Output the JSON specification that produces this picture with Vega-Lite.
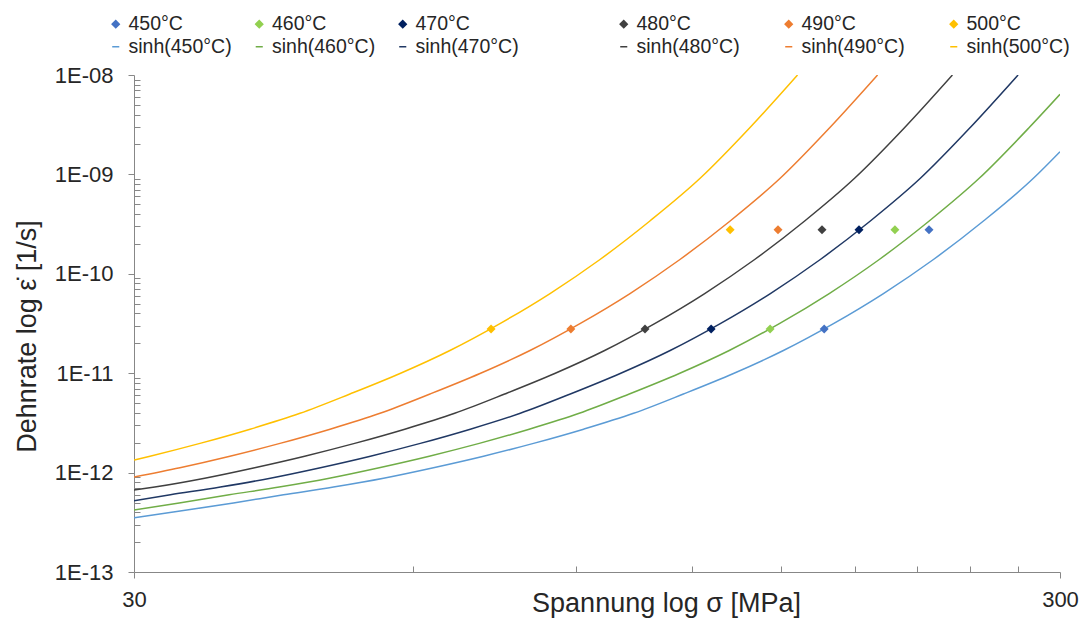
{
  "$schema": "https://vega.github.io/schema/vega-lite/v6.json",
  "width": 926,
  "height": 497,
  "autosize": {"type": "none"},
  "padding": {"left": 134, "top": 75, "right": 26, "bottom": 46},
  "background": "white",
  "config": {"view": {"stroke": null}, "font": "Liberation Sans"},
  "datasets": {
    "curves": [
      {"series": "sinh(450°C)", "sigma": 30, "rate": 3.518e-13},
      {"series": "sinh(450°C)", "sigma": 33.93, "rate": 4.146e-13},
      {"series": "sinh(450°C)", "sigma": 38.42, "rate": 4.956e-13},
      {"series": "sinh(450°C)", "sigma": 43.51, "rate": 5.978e-13},
      {"series": "sinh(450°C)", "sigma": 49.27, "rate": 7.163e-13},
      {"series": "sinh(450°C)", "sigma": 55.80, "rate": 8.784e-13},
      {"series": "sinh(450°C)", "sigma": 63.17, "rate": 1.120e-12},
      {"series": "sinh(450°C)", "sigma": 71.55, "rate": 1.462e-12},
      {"series": "sinh(450°C)", "sigma": 81.02, "rate": 1.967e-12},
      {"series": "sinh(450°C)", "sigma": 91.76, "rate": 2.733e-12},
      {"series": "sinh(450°C)", "sigma": 103.9, "rate": 3.949e-12},
      {"series": "sinh(450°C)", "sigma": 117.6, "rate": 6.175e-12},
      {"series": "sinh(450°C)", "sigma": 133.2, "rate": 9.931e-12},
      {"series": "sinh(450°C)", "sigma": 150.8, "rate": 1.692e-11},
      {"series": "sinh(450°C)", "sigma": 170.8, "rate": 3.155e-11},
      {"series": "sinh(450°C)", "sigma": 193.4, "rate": 6.334e-11},
      {"series": "sinh(450°C)", "sigma": 219.0, "rate": 1.393e-10},
      {"series": "sinh(450°C)", "sigma": 248.0, "rate": 3.398e-10},
      {"series": "sinh(450°C)", "sigma": 280.8, "rate": 9.137e-10},
      {"series": "sinh(450°C)", "sigma": 300, "rate": 1.692e-9},

      {"series": "sinh(460°C)", "sigma": 30, "rate": 4.204e-13},
      {"series": "sinh(460°C)", "sigma": 33.57, "rate": 4.956e-13},
      {"series": "sinh(460°C)", "sigma": 38.01, "rate": 5.978e-13},
      {"series": "sinh(460°C)", "sigma": 43.05, "rate": 7.163e-13},
      {"series": "sinh(460°C)", "sigma": 48.75, "rate": 8.784e-13},
      {"series": "sinh(460°C)", "sigma": 55.20, "rate": 1.120e-12},
      {"series": "sinh(460°C)", "sigma": 62.51, "rate": 1.462e-12},
      {"series": "sinh(460°C)", "sigma": 70.79, "rate": 1.967e-12},
      {"series": "sinh(460°C)", "sigma": 80.15, "rate": 2.733e-12},
      {"series": "sinh(460°C)", "sigma": 90.77, "rate": 3.949e-12},
      {"series": "sinh(460°C)", "sigma": 102.8, "rate": 6.175e-12},
      {"series": "sinh(460°C)", "sigma": 116.4, "rate": 9.931e-12},
      {"series": "sinh(460°C)", "sigma": 131.8, "rate": 1.692e-11},
      {"series": "sinh(460°C)", "sigma": 149.3, "rate": 3.155e-11},
      {"series": "sinh(460°C)", "sigma": 169.0, "rate": 6.334e-11},
      {"series": "sinh(460°C)", "sigma": 191.4, "rate": 1.393e-10},
      {"series": "sinh(460°C)", "sigma": 216.7, "rate": 3.398e-10},
      {"series": "sinh(460°C)", "sigma": 245.4, "rate": 9.137e-10},
      {"series": "sinh(460°C)", "sigma": 277.9, "rate": 2.963e-9},
      {"series": "sinh(460°C)", "sigma": 300, "rate": 6.39e-9},

      {"series": "sinh(470°C)", "sigma": 30, "rate": 5.216e-13},
      {"series": "sinh(470°C)", "sigma": 32.84, "rate": 5.978e-13},
      {"series": "sinh(470°C)", "sigma": 37.19, "rate": 7.163e-13},
      {"series": "sinh(470°C)", "sigma": 42.11, "rate": 8.784e-13},
      {"series": "sinh(470°C)", "sigma": 47.69, "rate": 1.120e-12},
      {"series": "sinh(470°C)", "sigma": 54.00, "rate": 1.462e-12},
      {"series": "sinh(470°C)", "sigma": 61.14, "rate": 1.967e-12},
      {"series": "sinh(470°C)", "sigma": 69.23, "rate": 2.733e-12},
      {"series": "sinh(470°C)", "sigma": 78.39, "rate": 3.949e-12},
      {"series": "sinh(470°C)", "sigma": 88.78, "rate": 6.175e-12},
      {"series": "sinh(470°C)", "sigma": 100.5, "rate": 9.931e-12},
      {"series": "sinh(470°C)", "sigma": 113.8, "rate": 1.692e-11},
      {"series": "sinh(470°C)", "sigma": 128.9, "rate": 3.155e-11},
      {"series": "sinh(470°C)", "sigma": 146.0, "rate": 6.334e-11},
      {"series": "sinh(470°C)", "sigma": 165.3, "rate": 1.393e-10},
      {"series": "sinh(470°C)", "sigma": 187.2, "rate": 3.398e-10},
      {"series": "sinh(470°C)", "sigma": 212.0, "rate": 9.137e-10},
      {"series": "sinh(470°C)", "sigma": 240.0, "rate": 2.963e-9},
      {"series": "sinh(470°C)", "sigma": 270.3, "rate": 1e-8},

      {"series": "sinh(480°C)", "sigma": 30, "rate": 6.68e-13},
      {"series": "sinh(480°C)", "sigma": 31.59, "rate": 7.163e-13},
      {"series": "sinh(480°C)", "sigma": 35.77, "rate": 8.784e-13},
      {"series": "sinh(480°C)", "sigma": 40.50, "rate": 1.120e-12},
      {"series": "sinh(480°C)", "sigma": 45.86, "rate": 1.462e-12},
      {"series": "sinh(480°C)", "sigma": 51.93, "rate": 1.967e-12},
      {"series": "sinh(480°C)", "sigma": 58.82, "rate": 2.733e-12},
      {"series": "sinh(480°C)", "sigma": 66.60, "rate": 3.949e-12},
      {"series": "sinh(480°C)", "sigma": 75.41, "rate": 6.175e-12},
      {"series": "sinh(480°C)", "sigma": 85.40, "rate": 9.931e-12},
      {"series": "sinh(480°C)", "sigma": 96.69, "rate": 1.692e-11},
      {"series": "sinh(480°C)", "sigma": 109.5, "rate": 3.155e-11},
      {"series": "sinh(480°C)", "sigma": 124.0, "rate": 6.334e-11},
      {"series": "sinh(480°C)", "sigma": 140.4, "rate": 1.393e-10},
      {"series": "sinh(480°C)", "sigma": 159.0, "rate": 3.398e-10},
      {"series": "sinh(480°C)", "sigma": 180.0, "rate": 9.137e-10},
      {"series": "sinh(480°C)", "sigma": 203.9, "rate": 2.963e-9},
      {"series": "sinh(480°C)", "sigma": 229.6, "rate": 1e-8},

      {"series": "sinh(490°C)", "sigma": 30, "rate": 9.03e-13},
      {"series": "sinh(490°C)", "sigma": 33.63, "rate": 1.120e-12},
      {"series": "sinh(490°C)", "sigma": 38.08, "rate": 1.462e-12},
      {"series": "sinh(490°C)", "sigma": 43.13, "rate": 1.967e-12},
      {"series": "sinh(490°C)", "sigma": 48.85, "rate": 2.733e-12},
      {"series": "sinh(490°C)", "sigma": 55.31, "rate": 3.949e-12},
      {"series": "sinh(490°C)", "sigma": 62.63, "rate": 6.175e-12},
      {"series": "sinh(490°C)", "sigma": 70.92, "rate": 9.931e-12},
      {"series": "sinh(490°C)", "sigma": 80.31, "rate": 1.692e-11},
      {"series": "sinh(490°C)", "sigma": 90.93, "rate": 3.155e-11},
      {"series": "sinh(490°C)", "sigma": 102.98, "rate": 6.334e-11},
      {"series": "sinh(490°C)", "sigma": 116.6, "rate": 1.393e-10},
      {"series": "sinh(490°C)", "sigma": 132.1, "rate": 3.398e-10},
      {"series": "sinh(490°C)", "sigma": 149.6, "rate": 9.137e-10},
      {"series": "sinh(490°C)", "sigma": 169.3, "rate": 2.963e-9},
      {"series": "sinh(490°C)", "sigma": 190.6, "rate": 1e-8},

      {"series": "sinh(500°C)", "sigma": 30, "rate": 1.339e-12},
      {"series": "sinh(500°C)", "sigma": 31.22, "rate": 1.462e-12},
      {"series": "sinh(500°C)", "sigma": 35.35, "rate": 1.967e-12},
      {"series": "sinh(500°C)", "sigma": 40.04, "rate": 2.733e-12},
      {"series": "sinh(500°C)", "sigma": 45.33, "rate": 3.949e-12},
      {"series": "sinh(500°C)", "sigma": 51.32, "rate": 6.175e-12},
      {"series": "sinh(500°C)", "sigma": 58.13, "rate": 9.931e-12},
      {"series": "sinh(500°C)", "sigma": 65.81, "rate": 1.692e-11},
      {"series": "sinh(500°C)", "sigma": 74.53, "rate": 3.155e-11},
      {"series": "sinh(500°C)", "sigma": 84.41, "rate": 6.334e-11},
      {"series": "sinh(500°C)", "sigma": 95.58, "rate": 1.393e-10},
      {"series": "sinh(500°C)", "sigma": 108.2, "rate": 3.398e-10},
      {"series": "sinh(500°C)", "sigma": 122.6, "rate": 9.137e-10},
      {"series": "sinh(500°C)", "sigma": 138.8, "rate": 2.963e-9},
      {"series": "sinh(500°C)", "sigma": 156.2, "rate": 1e-8}
    ],
    "points": [
      {"series": "450°C", "sigma": 216.6, "rate": 2.78e-10},
      {"series": "450°C", "sigma": 166.9, "rate": 2.78e-11},
      {"series": "460°C", "sigma": 199.0, "rate": 2.78e-10},
      {"series": "460°C", "sigma": 145.9, "rate": 2.78e-11},
      {"series": "470°C", "sigma": 182.0, "rate": 2.78e-10},
      {"series": "470°C", "sigma": 126.0, "rate": 2.78e-11},
      {"series": "480°C", "sigma": 166.0, "rate": 2.78e-10},
      {"series": "480°C", "sigma": 106.9, "rate": 2.78e-11},
      {"series": "490°C", "sigma": 148.8, "rate": 2.78e-10},
      {"series": "490°C", "sigma": 88.9, "rate": 2.78e-11},
      {"series": "500°C", "sigma": 132.1, "rate": 2.78e-10},
      {"series": "500°C", "sigma": 72.9, "rate": 2.78e-11}
    ]
  },
  "encoding": {
    "x": {
      "field": "sigma", "type": "quantitative",
      "scale": {"type": "log", "domain": [30, 300]},
      "axis": {
        "values": [30, 60, 90, 120, 150, 180, 210, 240, 270, 300],
        "labelExpr": "datum.value == 30 || datum.value == 300 ? datum.label : ''",
        "labelFlush": false,
        "title": "Spannung log σ [MPa]",
        "grid": false,
        "domainColor": "#878787",
        "tickColor": "#878787",
        "tickSize": {"condition": {"test": "datum.value == 30 || datum.value == 300", "value": 6}, "value": -6},
        "labelFontSize": 22,
        "labelPadding": 11,
        "labelColor": "#262626",
        "labelFont": "Liberation Sans",
        "titleFont": "Liberation Sans",
        "titleFontSize": 27,
        "titleFontWeight": "normal",
        "titleColor": "#262626",
        "titleX": 532,
        "titleY": 39,
        "titleAlign": "center",
        "titleBaseline": "alphabetic"
      }
    },
    "y": {
      "field": "rate", "type": "quantitative",
      "scale": {"type": "log", "domain": [1e-13, 1e-8]},
      "axis": {
        "values": [1e-13, 2e-13, 3e-13, 4e-13, 5e-13, 6e-13, 7e-13, 8e-13, 9e-13,
                   1e-12, 2e-12, 3e-12, 4e-12, 5e-12, 6e-12, 7e-12, 8e-12, 9e-12,
                   1e-11, 2e-11, 3e-11, 4e-11, 5e-11, 6e-11, 7e-11, 8e-11, 9e-11,
                   1e-10, 2e-10, 3e-10, 4e-10, 5e-10, 6e-10, 7e-10, 8e-10, 9e-10,
                   1e-9, 2e-9, 3e-9, 4e-9, 5e-9, 6e-9, 7e-9, 8e-9, 9e-9, 1e-8],
        "labelExpr": "abs(log(datum.value)/LN10 - round(log(datum.value)/LN10)) < 0.001 ? ('1E-' + (round(-log(datum.value)/LN10) < 10 ? '0' : '') + round(-log(datum.value)/LN10)) : ''",
        "labelFlush": false,
        "title": "Dehnrate log ε̇ [1/s]",
        "grid": false,
        "domainColor": "#878787",
        "tickColor": "#878787",
        "tickSize": {"condition": {"test": "abs(log(datum.value)/LN10 - round(log(datum.value)/LN10)) < 0.001", "value": 6}, "value": -6},
        "labelFontSize": 22,
        "labelPadding": 15,
        "labelColor": "#262626",
        "labelFont": "Liberation Sans",
        "titleFont": "Liberation Sans",
        "titleFontSize": 27,
        "titleFontWeight": "normal",
        "titleColor": "#262626",
        "titleX": -99,
        "titleY": 261,
        "titleAlign": "center",
        "titleBaseline": "alphabetic"
      }
    }
  },
  "layer": [
    {
      "data": {"name": "curves"},
      "transform": [{"filter": {"field": "series", "oneOf": ["sinh(450°C)", "sinh(460°C)", "sinh(470°C)"]}}],
      "mark": {"type": "line", "interpolate": "monotone", "strokeWidth": 1.5, "clip": true},
      "encoding": {
        "color": {
          "field": "series", "type": "nominal",
          "scale": {
            "domain": ["450°C", "460°C", "470°C", "sinh(450°C)", "sinh(460°C)", "sinh(470°C)"],
            "range": ["#4472C4", "#92D050", "#002060", "#5B9BD5", "#70AD47", "#203864"]
          },
          "legend": {
            "orient": "none",
            "direction": "horizontal",
            "legendX": -28,
            "legendY": -61,
            "columns": 3,
            "title": null,
            "labelFont": "Liberation Sans",
            "labelFontSize": 19.5,
            "labelColor": "#262626",
            "labelLimit": 400,
            "symbolSize": 50,
            "symbolStrokeWidth": 1.5,
            "labelOffset": 3,
            "rowPadding": 2,
            "columnPadding": 17.5,
            "padding": 0,
            "encode": {
              "symbols": {
                "update": {
                  "shape": {"signal": "indexof(datum.value, 'sinh') >= 0 ? 'stroke' : 'diamond'"},
                  "fill": {"scale": "color", "field": "value"},
                  "stroke": {"scale": "color", "field": "value"},
                  "strokeWidth": {"value": 1.5},
                  "opacity": {"value": 1}
                }
              }
            }
          }
        }
      }
    },
    {
      "data": {"name": "curves"},
      "transform": [{"filter": {"field": "series", "oneOf": ["sinh(480°C)", "sinh(490°C)", "sinh(500°C)"]}}],
      "mark": {"type": "line", "interpolate": "monotone", "strokeWidth": 1.5, "clip": true},
      "encoding": {
        "stroke": {
          "field": "series", "type": "nominal",
          "scale": {
            "domain": ["480°C", "490°C", "500°C", "sinh(480°C)", "sinh(490°C)", "sinh(500°C)"],
            "range": ["#404040", "#ED7D31", "#FFC000", "#404040", "#ED7D31", "#FFC000"]
          },
          "legend": {
            "orient": "none",
            "direction": "horizontal",
            "legendX": 480,
            "legendY": -61,
            "columns": 3,
            "title": null,
            "labelFont": "Liberation Sans",
            "labelFontSize": 19.5,
            "labelColor": "#262626",
            "labelLimit": 400,
            "symbolSize": 50,
            "symbolStrokeWidth": 1.5,
            "labelOffset": 3,
            "rowPadding": 2,
            "columnPadding": 39,
            "padding": 0,
            "encode": {
              "symbols": {
                "update": {
                  "shape": {"signal": "indexof(datum.value, 'sinh') >= 0 ? 'stroke' : 'diamond'"},
                  "fill": {"scale": "stroke", "field": "value"},
                  "stroke": {"scale": "stroke", "field": "value"},
                  "strokeWidth": {"value": 1.5},
                  "opacity": {"value": 1}
                }
              }
            }
          }
        }
      }
    },
    {
      "data": {"name": "points"},
      "transform": [{"filter": {"field": "series", "oneOf": ["450°C", "460°C", "470°C"]}}],
      "mark": {"type": "point", "shape": "diamond", "filled": true, "size": 80, "opacity": 1},
      "encoding": {
        "color": {"field": "series", "type": "nominal"}
      }
    },
    {
      "data": {"name": "points"},
      "transform": [{"filter": {"field": "series", "oneOf": ["480°C", "490°C", "500°C"]}}],
      "mark": {"type": "point", "shape": "diamond", "filled": true, "size": 80, "opacity": 1},
      "encoding": {
        "fill": {
          "field": "series", "type": "nominal",
          "scale": {"domain": ["480°C", "490°C", "500°C"], "range": ["#404040", "#ED7D31", "#FFC000"]},
          "legend": null
        }
      }
    }
  ]
}
